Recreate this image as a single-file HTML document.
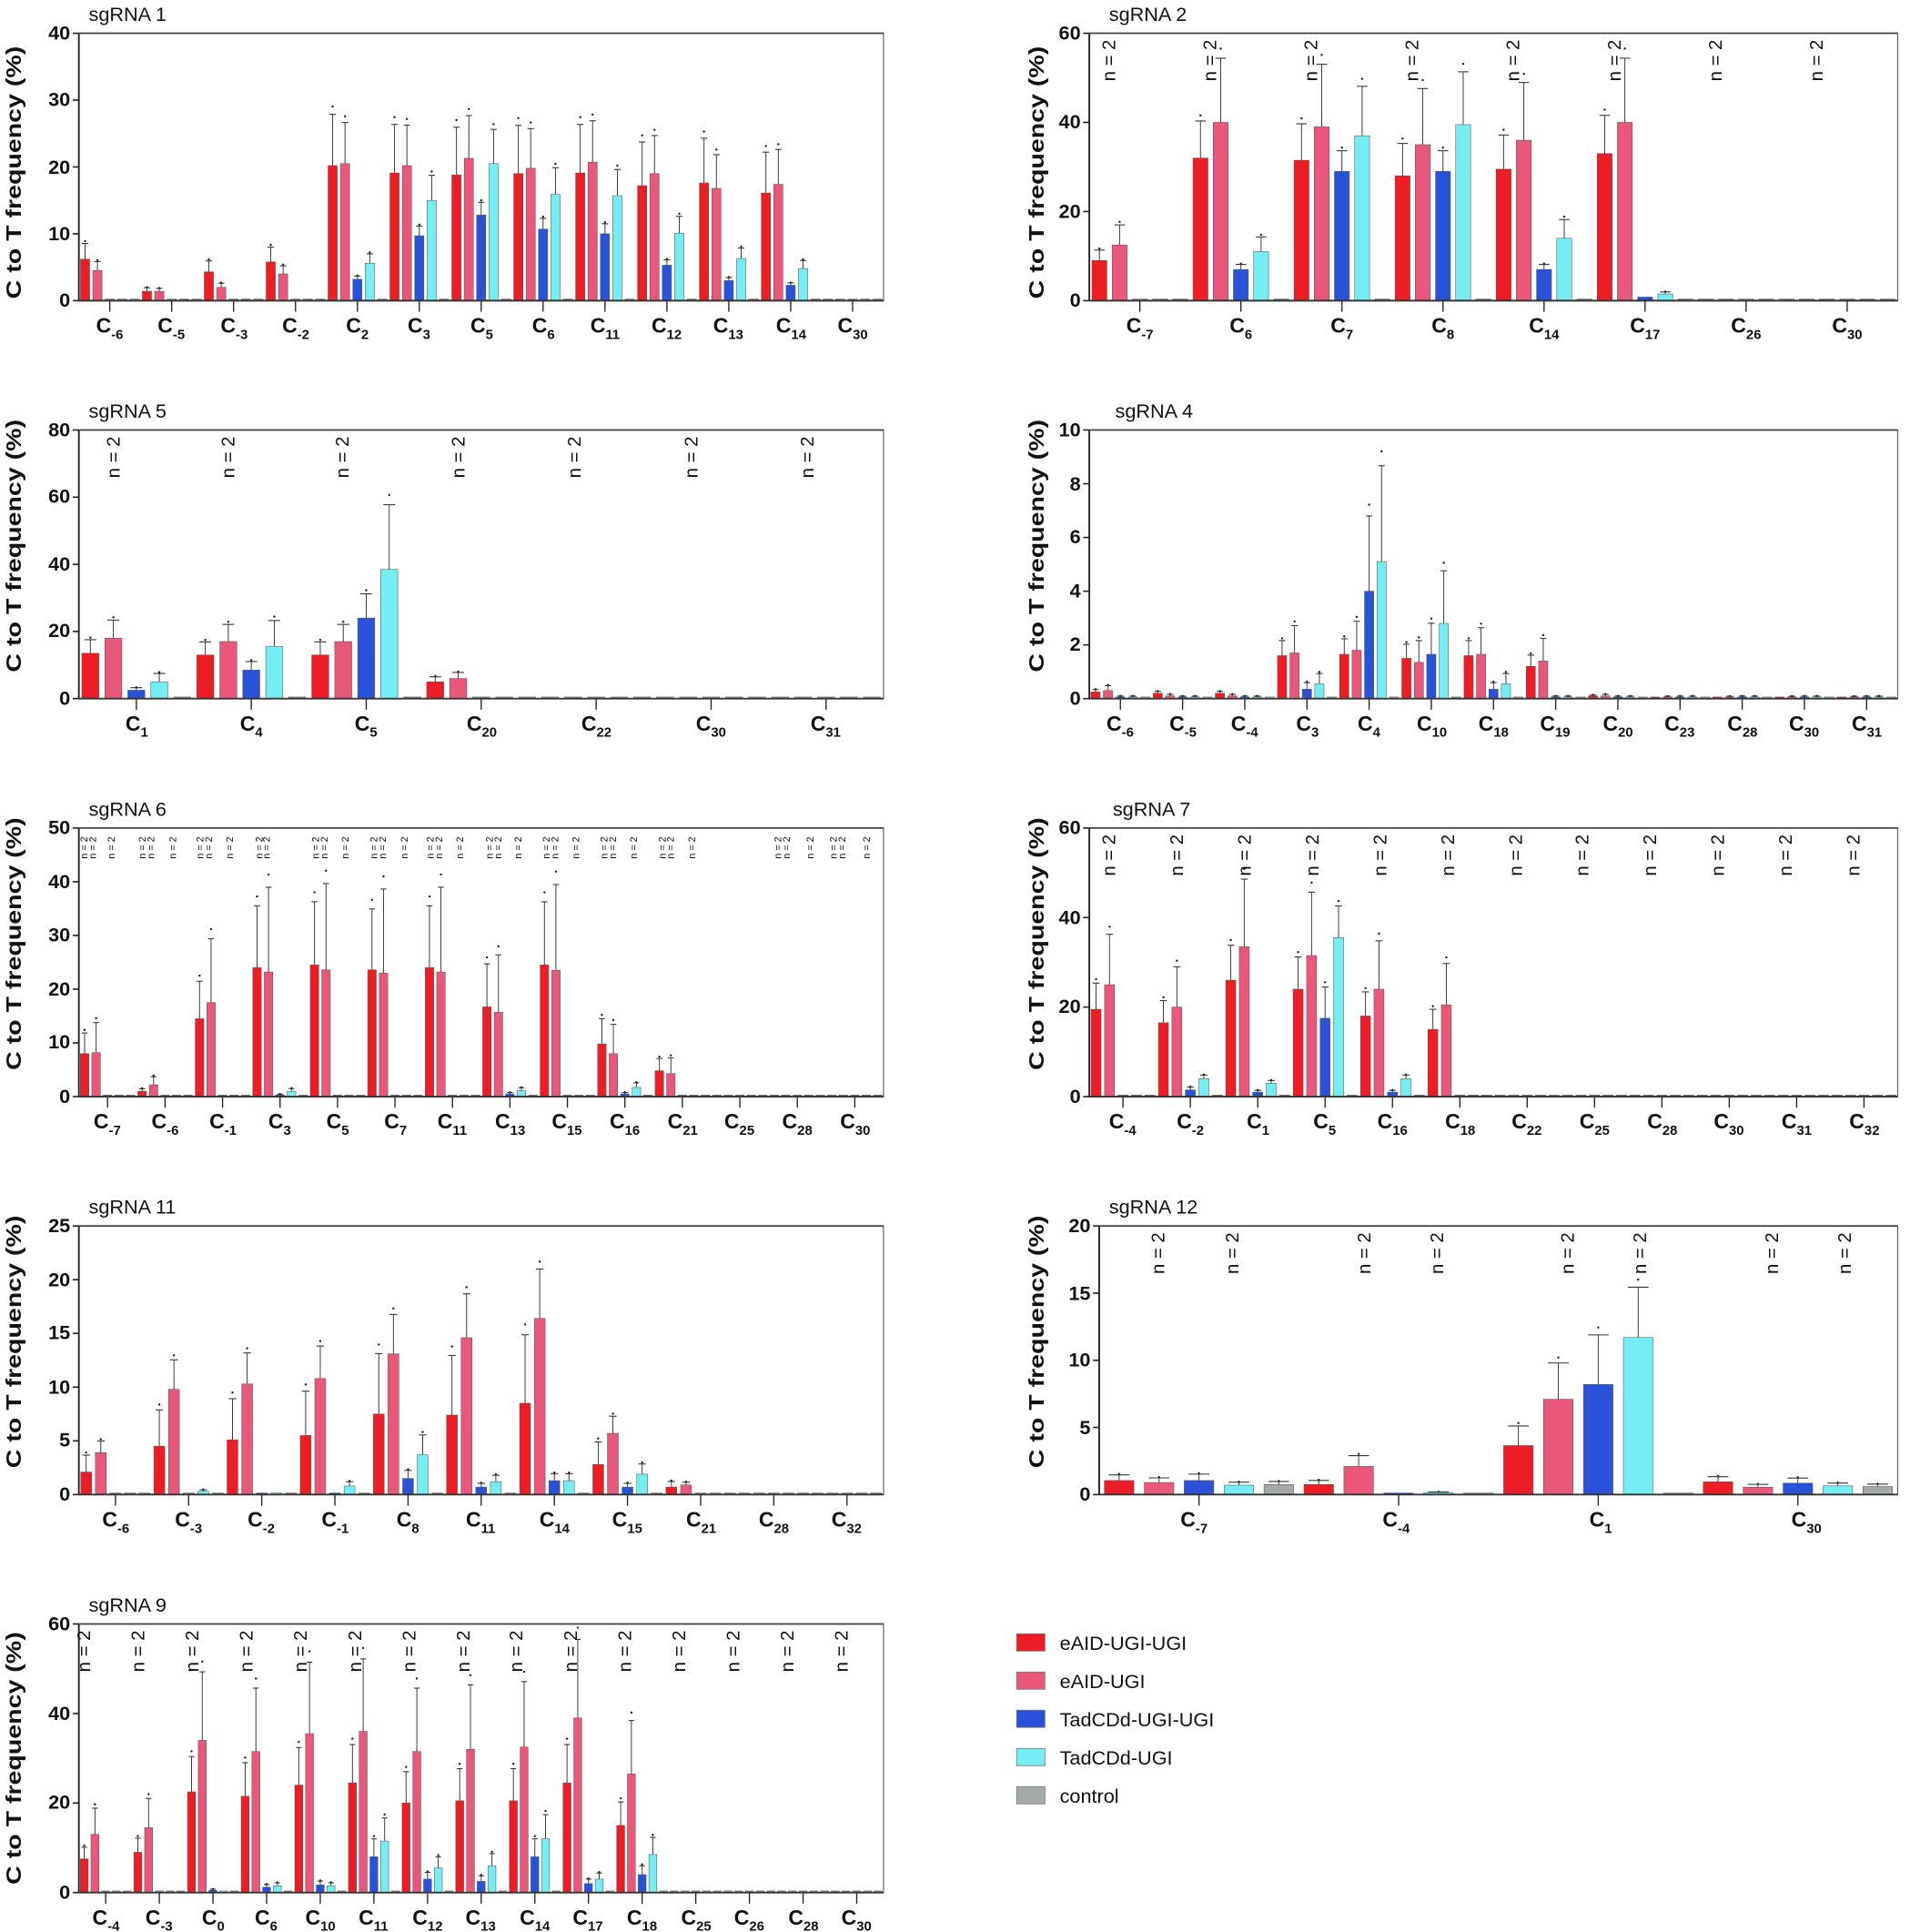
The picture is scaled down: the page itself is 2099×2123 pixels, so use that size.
<!DOCTYPE html>
<html><head><meta charset="utf-8">
<style>
html,body{margin:0;padding:0;background:#fff;}
svg{display:block;}
text{font-family:"Liberation Sans Narrow","Liberation Sans",sans-serif;fill:#111;}
.tk{font-weight:bold;font-size:16px;text-anchor:end;}
.xl{font-weight:bold;font-size:17px;text-anchor:middle;}
.sb{font-size:11px;}
.ti{font-size:16px;}
.yl{font-family:"Liberation Sans",sans-serif;font-weight:bold;font-size:17px;text-anchor:middle;}
.n{font-family:"Liberation Sans",sans-serif;font-size:15px;}
.ns{font-family:"Liberation Sans",sans-serif;font-size:8px;}
.lg{font-family:"Liberation Sans",sans-serif;font-size:16px;}
</style></head><body>
<svg id="s" width="2099" height="2123" viewBox="0 0 1550 1568" preserveAspectRatio="none" xmlns="http://www.w3.org/2000/svg">
<g id="bars"></g>
<!-- titles -->
<text class="ti" x="72" y="17">sgRNA 1</text>
<text class="ti" x="900" y="17">sgRNA 2</text>
<text class="ti" x="72" y="339">sgRNA 5</text>
<text class="ti" x="905" y="339">sgRNA 4</text>
<text class="ti" x="72" y="662">sgRNA 6</text>
<text class="ti" x="903" y="662">sgRNA 7</text>
<text class="ti" x="72" y="985">sgRNA 11</text>
<text class="ti" x="900" y="985">sgRNA 12</text>
<text class="ti" x="72" y="1308">sgRNA 9</text>
<!-- y labels -->
<text class="yl" textLength="205" lengthAdjust="spacingAndGlyphs" transform="translate(17,140) rotate(-90)">C to T frequency (%)</text>
<text class="yl" textLength="205" lengthAdjust="spacingAndGlyphs" transform="translate(847,140) rotate(-90)">C to T frequency (%)</text>
<text class="yl" textLength="205" lengthAdjust="spacingAndGlyphs" transform="translate(17,443) rotate(-90)">C to T frequency (%)</text>
<text class="yl" textLength="205" lengthAdjust="spacingAndGlyphs" transform="translate(847,443) rotate(-90)">C to T frequency (%)</text>
<text class="yl" textLength="205" lengthAdjust="spacingAndGlyphs" transform="translate(17,766) rotate(-90)">C to T frequency (%)</text>
<text class="yl" textLength="205" lengthAdjust="spacingAndGlyphs" transform="translate(847,766) rotate(-90)">C to T frequency (%)</text>
<text class="yl" textLength="205" lengthAdjust="spacingAndGlyphs" transform="translate(17,1089) rotate(-90)">C to T frequency (%)</text>
<text class="yl" textLength="205" lengthAdjust="spacingAndGlyphs" transform="translate(847,1089) rotate(-90)">C to T frequency (%)</text>
<text class="yl" textLength="205" lengthAdjust="spacingAndGlyphs" transform="translate(17,1427) rotate(-90)">C to T frequency (%)</text>
<!-- y ticks P1 -->
<text class="tk" x="57" y="249">0</text><text class="tk" x="57" y="195">10</text><text class="tk" x="57" y="141">20</text><text class="tk" x="57" y="86">30</text><text class="tk" x="57" y="32">40</text>
<!-- P2 -->
<text class="tk" x="877" y="249">0</text><text class="tk" x="877" y="177">20</text><text class="tk" x="877" y="104">40</text><text class="tk" x="877" y="32">60</text>
<!-- P5 -->
<text class="tk" x="57" y="572">0</text><text class="tk" x="57" y="517">20</text><text class="tk" x="57" y="463">40</text><text class="tk" x="57" y="408">60</text><text class="tk" x="57" y="354">80</text>
<!-- P4 -->
<text class="tk" x="877" y="572">0</text><text class="tk" x="877" y="528">2</text><text class="tk" x="877" y="485">4</text><text class="tk" x="877" y="441">6</text><text class="tk" x="877" y="398">8</text><text class="tk" x="877" y="354">10</text>
<!-- P6 -->
<text class="tk" x="57" y="895">0</text><text class="tk" x="57" y="851">10</text><text class="tk" x="57" y="808">20</text><text class="tk" x="57" y="764">30</text><text class="tk" x="57" y="721">40</text><text class="tk" x="57" y="677">50</text>
<!-- P7 -->
<text class="tk" x="877" y="895">0</text><text class="tk" x="877" y="822">20</text><text class="tk" x="877" y="750">40</text><text class="tk" x="877" y="677">60</text>
<!-- P11 -->
<text class="tk" x="57" y="1218">0</text><text class="tk" x="57" y="1174">5</text><text class="tk" x="57" y="1131">10</text><text class="tk" x="57" y="1087">15</text><text class="tk" x="57" y="1044">20</text><text class="tk" x="57" y="1000">25</text>
<!-- P12 -->
<text class="tk" x="885" y="1218">0</text><text class="tk" x="885" y="1164">5</text><text class="tk" x="885" y="1109">10</text><text class="tk" x="885" y="1055">15</text><text class="tk" x="885" y="1000">20</text>
<!-- P9 -->
<text class="tk" x="57" y="1541">0</text><text class="tk" x="57" y="1468">20</text><text class="tk" x="57" y="1396">40</text><text class="tk" x="57" y="1323">60</text>

<!-- x labels P1 -->
<text class="xl" x="89" y="270">C<tspan class="sb" dy="5">-6</tspan></text>
<text class="xl" x="139" y="270">C<tspan class="sb" dy="5">-5</tspan></text>
<text class="xl" x="190" y="270">C<tspan class="sb" dy="5">-3</tspan></text>
<text class="xl" x="240" y="270">C<tspan class="sb" dy="5">-2</tspan></text>
<text class="xl" x="290" y="270">C<tspan class="sb" dy="5">2</tspan></text>
<text class="xl" x="340" y="270">C<tspan class="sb" dy="5">3</tspan></text>
<text class="xl" x="391" y="270">C<tspan class="sb" dy="5">5</tspan></text>
<text class="xl" x="441" y="270">C<tspan class="sb" dy="5">6</tspan></text>
<text class="xl" x="491" y="270">C<tspan class="sb" dy="5">11</tspan></text>
<text class="xl" x="541" y="270">C<tspan class="sb" dy="5">12</tspan></text>
<text class="xl" x="591" y="270">C<tspan class="sb" dy="5">13</tspan></text>
<text class="xl" x="642" y="270">C<tspan class="sb" dy="5">14</tspan></text>
<text class="xl" x="692" y="270">C<tspan class="sb" dy="5">30</tspan></text>
<!-- P2 -->
<text class="xl" x="925" y="270">C<tspan class="sb" dy="5">-7</tspan></text>
<text class="xl" x="1007" y="270">C<tspan class="sb" dy="5">6</tspan></text>
<text class="xl" x="1089" y="270">C<tspan class="sb" dy="5">7</tspan></text>
<text class="xl" x="1171" y="270">C<tspan class="sb" dy="5">8</tspan></text>
<text class="xl" x="1253" y="270">C<tspan class="sb" dy="5">14</tspan></text>
<text class="xl" x="1335" y="270">C<tspan class="sb" dy="5">17</tspan></text>
<text class="xl" x="1417" y="270">C<tspan class="sb" dy="5">26</tspan></text>
<text class="xl" x="1499" y="270">C<tspan class="sb" dy="5">30</tspan></text>
<!-- P5 -->
<text class="xl" x="111" y="593">C<tspan class="sb" dy="5">1</tspan></text>
<text class="xl" x="204" y="593">C<tspan class="sb" dy="5">4</tspan></text>
<text class="xl" x="297" y="593">C<tspan class="sb" dy="5">5</tspan></text>
<text class="xl" x="391" y="593">C<tspan class="sb" dy="5">20</tspan></text>
<text class="xl" x="484" y="593">C<tspan class="sb" dy="5">22</tspan></text>
<text class="xl" x="577" y="593">C<tspan class="sb" dy="5">30</tspan></text>
<text class="xl" x="670" y="593">C<tspan class="sb" dy="5">31</tspan></text>
<!-- P4 -->
<text class="xl" x="909" y="593">C<tspan class="sb" dy="5">-6</tspan></text>
<text class="xl" x="960" y="593">C<tspan class="sb" dy="5">-5</tspan></text>
<text class="xl" x="1010" y="593">C<tspan class="sb" dy="5">-4</tspan></text>
<text class="xl" x="1061" y="593">C<tspan class="sb" dy="5">3</tspan></text>
<text class="xl" x="1111" y="593">C<tspan class="sb" dy="5">4</tspan></text>
<text class="xl" x="1162" y="593">C<tspan class="sb" dy="5">10</tspan></text>
<text class="xl" x="1212" y="593">C<tspan class="sb" dy="5">18</tspan></text>
<text class="xl" x="1262" y="593">C<tspan class="sb" dy="5">19</tspan></text>
<text class="xl" x="1313" y="593">C<tspan class="sb" dy="5">20</tspan></text>
<text class="xl" x="1363" y="593">C<tspan class="sb" dy="5">23</tspan></text>
<text class="xl" x="1414" y="593">C<tspan class="sb" dy="5">28</tspan></text>
<text class="xl" x="1464" y="593">C<tspan class="sb" dy="5">30</tspan></text>
<text class="xl" x="1515" y="593">C<tspan class="sb" dy="5">31</tspan></text>
<!-- P6 -->
<text class="xl" x="87" y="916">C<tspan class="sb" dy="5">-7</tspan></text>
<text class="xl" x="134" y="916">C<tspan class="sb" dy="5">-6</tspan></text>
<text class="xl" x="181" y="916">C<tspan class="sb" dy="5">-1</tspan></text>
<text class="xl" x="227" y="916">C<tspan class="sb" dy="5">3</tspan></text>
<text class="xl" x="274" y="916">C<tspan class="sb" dy="5">5</tspan></text>
<text class="xl" x="321" y="916">C<tspan class="sb" dy="5">7</tspan></text>
<text class="xl" x="367" y="916">C<tspan class="sb" dy="5">11</tspan></text>
<text class="xl" x="414" y="916">C<tspan class="sb" dy="5">13</tspan></text>
<text class="xl" x="460" y="916">C<tspan class="sb" dy="5">15</tspan></text>
<text class="xl" x="507" y="916">C<tspan class="sb" dy="5">16</tspan></text>
<text class="xl" x="554" y="916">C<tspan class="sb" dy="5">21</tspan></text>
<text class="xl" x="600" y="916">C<tspan class="sb" dy="5">25</tspan></text>
<text class="xl" x="647" y="916">C<tspan class="sb" dy="5">28</tspan></text>
<text class="xl" x="694" y="916">C<tspan class="sb" dy="5">30</tspan></text>
<!-- P7 -->
<text class="xl" x="911" y="916">C<tspan class="sb" dy="5">-4</tspan></text>
<text class="xl" x="966" y="916">C<tspan class="sb" dy="5">-2</tspan></text>
<text class="xl" x="1021" y="916">C<tspan class="sb" dy="5">1</tspan></text>
<text class="xl" x="1075" y="916">C<tspan class="sb" dy="5">5</tspan></text>
<text class="xl" x="1130" y="916">C<tspan class="sb" dy="5">16</tspan></text>
<text class="xl" x="1185" y="916">C<tspan class="sb" dy="5">18</tspan></text>
<text class="xl" x="1239" y="916">C<tspan class="sb" dy="5">22</tspan></text>
<text class="xl" x="1294" y="916">C<tspan class="sb" dy="5">25</tspan></text>
<text class="xl" x="1349" y="916">C<tspan class="sb" dy="5">28</tspan></text>
<text class="xl" x="1403" y="916">C<tspan class="sb" dy="5">30</tspan></text>
<text class="xl" x="1458" y="916">C<tspan class="sb" dy="5">31</tspan></text>
<text class="xl" x="1513" y="916">C<tspan class="sb" dy="5">32</tspan></text>
<!-- P11 -->
<text class="xl" x="94" y="1239">C<tspan class="sb" dy="5">-6</tspan></text>
<text class="xl" x="153" y="1239">C<tspan class="sb" dy="5">-3</tspan></text>
<text class="xl" x="212" y="1239">C<tspan class="sb" dy="5">-2</tspan></text>
<text class="xl" x="272" y="1239">C<tspan class="sb" dy="5">-1</tspan></text>
<text class="xl" x="331" y="1239">C<tspan class="sb" dy="5">8</tspan></text>
<text class="xl" x="390" y="1239">C<tspan class="sb" dy="5">11</tspan></text>
<text class="xl" x="450" y="1239">C<tspan class="sb" dy="5">14</tspan></text>
<text class="xl" x="509" y="1239">C<tspan class="sb" dy="5">15</tspan></text>
<text class="xl" x="569" y="1239">C<tspan class="sb" dy="5">21</tspan></text>
<text class="xl" x="628" y="1239">C<tspan class="sb" dy="5">28</tspan></text>
<text class="xl" x="687" y="1239">C<tspan class="sb" dy="5">32</tspan></text>
<!-- P12 -->
<text class="xl" x="969" y="1239">C<tspan class="sb" dy="5">-7</tspan></text>
<text class="xl" x="1133" y="1239">C<tspan class="sb" dy="5">-4</tspan></text>
<text class="xl" x="1299" y="1239">C<tspan class="sb" dy="5">1</tspan></text>
<text class="xl" x="1466" y="1239">C<tspan class="sb" dy="5">30</tspan></text>
<!-- P9 -->
<text class="xl" x="86" y="1562">C<tspan class="sb" dy="5">-4</tspan></text>
<text class="xl" x="129" y="1562">C<tspan class="sb" dy="5">-3</tspan></text>
<text class="xl" x="173" y="1562">C<tspan class="sb" dy="5">0</tspan></text>
<text class="xl" x="216" y="1562">C<tspan class="sb" dy="5">6</tspan></text>
<text class="xl" x="260" y="1562">C<tspan class="sb" dy="5">10</tspan></text>
<text class="xl" x="303" y="1562">C<tspan class="sb" dy="5">11</tspan></text>
<text class="xl" x="347" y="1562">C<tspan class="sb" dy="5">12</tspan></text>
<text class="xl" x="390" y="1562">C<tspan class="sb" dy="5">13</tspan></text>
<text class="xl" x="434" y="1562">C<tspan class="sb" dy="5">14</tspan></text>
<text class="xl" x="477" y="1562">C<tspan class="sb" dy="5">17</tspan></text>
<text class="xl" x="521" y="1562">C<tspan class="sb" dy="5">18</tspan></text>
<text class="xl" x="565" y="1562">C<tspan class="sb" dy="5">25</tspan></text>
<text class="xl" x="608" y="1562">C<tspan class="sb" dy="5">26</tspan></text>
<text class="xl" x="652" y="1562">C<tspan class="sb" dy="5">28</tspan></text>
<text class="xl" x="695" y="1562">C<tspan class="sb" dy="5">30</tspan></text>

<!-- n = 2 labels -->
<g class="n">
<text transform="translate(905,66) rotate(-90)">n = 2</text>
<text transform="translate(987,66) rotate(-90)">n = 2</text>
<text transform="translate(1069,66) rotate(-90)">n = 2</text>
<text transform="translate(1151,66) rotate(-90)">n = 2</text>
<text transform="translate(1233,66) rotate(-90)">n = 2</text>
<text transform="translate(1315,66) rotate(-90)">n = 2</text>
<text transform="translate(1397,66) rotate(-90)">n = 2</text>
<text transform="translate(1479,66) rotate(-90)">n = 2</text>

<text transform="translate(97,388) rotate(-90)">n = 2</text>
<text transform="translate(190,388) rotate(-90)">n = 2</text>
<text transform="translate(283,388) rotate(-90)">n = 2</text>
<text transform="translate(377,388) rotate(-90)">n = 2</text>
<text transform="translate(471,388) rotate(-90)">n = 2</text>
<text transform="translate(566,388) rotate(-90)">n = 2</text>
<text transform="translate(660,388) rotate(-90)">n = 2</text>

<text transform="translate(905,711) rotate(-90)">n = 2</text>
<text transform="translate(960,711) rotate(-90)">n = 2</text>
<text transform="translate(1015,711) rotate(-90)">n = 2</text>
<text transform="translate(1070,711) rotate(-90)">n = 2</text>
<text transform="translate(1125,711) rotate(-90)">n = 2</text>
<text transform="translate(1180,711) rotate(-90)">n = 2</text>
<text transform="translate(1235,711) rotate(-90)">n = 2</text>
<text transform="translate(1289,711) rotate(-90)">n = 2</text>
<text transform="translate(1344,711) rotate(-90)">n = 2</text>
<text transform="translate(1399,711) rotate(-90)">n = 2</text>
<text transform="translate(1454,711) rotate(-90)">n = 2</text>
<text transform="translate(1509,711) rotate(-90)">n = 2</text>

<text transform="translate(945,1034) rotate(-90)">n = 2</text>
<text transform="translate(1005,1034) rotate(-90)">n = 2</text>
<text transform="translate(1112,1034) rotate(-90)">n = 2</text>
<text transform="translate(1171,1034) rotate(-90)">n = 2</text>
<text transform="translate(1277,1034) rotate(-90)">n = 2</text>
<text transform="translate(1336,1034) rotate(-90)">n = 2</text>
<text transform="translate(1443,1034) rotate(-90)">n = 2</text>
<text transform="translate(1502,1034) rotate(-90)">n = 2</text>

<text transform="translate(73,1357) rotate(-90)">n = 2</text>
<text transform="translate(117,1357) rotate(-90)">n = 2</text>
<text transform="translate(161,1357) rotate(-90)">n = 2</text>
<text transform="translate(205,1357) rotate(-90)">n = 2</text>
<text transform="translate(249,1357) rotate(-90)">n = 2</text>
<text transform="translate(293,1357) rotate(-90)">n = 2</text>
<text transform="translate(337,1357) rotate(-90)">n = 2</text>
<text transform="translate(381,1357) rotate(-90)">n = 2</text>
<text transform="translate(424,1357) rotate(-90)">n = 2</text>
<text transform="translate(468,1357) rotate(-90)">n = 2</text>
<text transform="translate(512,1357) rotate(-90)">n = 2</text>
<text transform="translate(556,1357) rotate(-90)">n = 2</text>
<text transform="translate(600,1357) rotate(-90)">n = 2</text>
<text transform="translate(644,1357) rotate(-90)">n = 2</text>
<text transform="translate(688,1357) rotate(-90)">n = 2</text>
</g>
<g class="ns">
<text transform="translate(71,697) rotate(-90)">n = 2</text><text transform="translate(78,697) rotate(-90)">n = 2</text><text transform="translate(93,697) rotate(-90)">n = 2</text>
<text transform="translate(118,697) rotate(-90)">n = 2</text><text transform="translate(125,697) rotate(-90)">n = 2</text><text transform="translate(143,697) rotate(-90)">n = 2</text>
<text transform="translate(165,697) rotate(-90)">n = 2</text><text transform="translate(172,697) rotate(-90)">n = 2</text><text transform="translate(189,697) rotate(-90)">n = 2</text>
<text transform="translate(213,697) rotate(-90)">n = 2</text><text transform="translate(219,697) rotate(-90)">n = 2</text>
<text transform="translate(259,697) rotate(-90)">n = 2</text><text transform="translate(266,697) rotate(-90)">n = 2</text><text transform="translate(283,697) rotate(-90)">n = 2</text>
<text transform="translate(306,697) rotate(-90)">n = 2</text><text transform="translate(313,697) rotate(-90)">n = 2</text><text transform="translate(331,697) rotate(-90)">n = 2</text>
<text transform="translate(352,697) rotate(-90)">n = 2</text><text transform="translate(359,697) rotate(-90)">n = 2</text><text transform="translate(376,697) rotate(-90)">n = 2</text>
<text transform="translate(400,697) rotate(-90)">n = 2</text><text transform="translate(407,697) rotate(-90)">n = 2</text><text transform="translate(423,697) rotate(-90)">n = 2</text>
<text transform="translate(446,697) rotate(-90)">n = 2</text><text transform="translate(453,697) rotate(-90)">n = 2</text><text transform="translate(470,697) rotate(-90)">n = 2</text>
<text transform="translate(493,697) rotate(-90)">n = 2</text><text transform="translate(500,697) rotate(-90)">n = 2</text><text transform="translate(517,697) rotate(-90)">n = 2</text>
<text transform="translate(540,697) rotate(-90)">n = 2</text><text transform="translate(547,697) rotate(-90)">n = 2</text><text transform="translate(564,697) rotate(-90)">n = 2</text>
<text transform="translate(634,697) rotate(-90)">n = 2</text><text transform="translate(641,697) rotate(-90)">n = 2</text><text transform="translate(660,697) rotate(-90)">n = 2</text>
<text transform="translate(679,697) rotate(-90)">n = 2</text><text transform="translate(686,697) rotate(-90)">n = 2</text><text transform="translate(706,697) rotate(-90)">n = 2</text>
</g>

<!-- legend -->
<rect x="825" y="1326" width="23" height="14" fill="#ee1c25" stroke="#777" stroke-width="0.6"/>
<rect x="825" y="1357" width="23" height="14" fill="#e9587a" stroke="#777" stroke-width="0.6"/>
<rect x="825" y="1388" width="23" height="14" fill="#2a52d9" stroke="#777" stroke-width="0.6"/>
<rect x="825" y="1419" width="23" height="14" fill="#74edf3" stroke="#777" stroke-width="0.6"/>
<rect x="825" y="1450" width="23" height="14" fill="#a3aaa8" stroke="#777" stroke-width="0.6"/>
<text class="lg" x="860" y="1339">eAID-UGI-UGI</text>
<text class="lg" x="860" y="1370">eAID-UGI</text>
<text class="lg" x="860" y="1401">TadCDd-UGI-UGI</text>
<text class="lg" x="860" y="1432">TadCDd-UGI</text>
<text class="lg" x="860" y="1463">control</text>
</svg>
<script>
(function(){
var C=["#ee1c25","#e9587a","#2a52d9","#74edf3","#a3aaa8"];
var P=[
{L:64,R:717,T:27,Z:244,M:40,tk:10,e:[0.38,0.3,0.15,0.25,0],d:[[6.2,4.5,0,0,0],[1.4,1.4,0,0,0],[4.3,2,0,0,0],[5.8,4,0,0,0],[20.2,20.5,3.2,5.6,0],[19.1,20.2,9.7,15,0],[18.8,21.3,12.8,20.5,0],[19,19.8,10.7,15.9,0],[19.1,20.7,10,15.7,0],[17.2,19,5.3,10.1,0],[17.6,16.8,3,6.3,0],[16.1,17.4,2.3,4.8,0],[0,0,0,0,0]]},
{L:884,R:1540,T:27,Z:244,M:60,tk:20,e:[0.26,0.36,0.16,0.3,0],d:[[9,12.5,0,0,0],[32,40,7,11,0],[31.5,39,29,37,0],[28,35,29,39.5,0],[29.5,36,7,14,0],[33,40,0.8,1.5,0],[0,0,0,0,0],[0,0,0,0,0]]},
{L:64,R:717,T:349,Z:567,M:80,tk:20,e:[0.3,0.3,0.3,0.5,0],d:[[13.5,18,2.5,5,0],[13,17,8.5,15.5,0],[13,17,24,38.5,0],[5,6,0,0,0],[0,0,0,0,0],[0,0,0,0,0],[0,0,0,0,0]]},
{L:884,R:1540,T:349,Z:567,M:10,tk:2,e:[0.35,0.6,0.7,0.7,0],d:[[0.25,0.3,0.05,0.05,0.05],[0.2,0.1,0.05,0.05,0.02],[0.2,0.1,0.05,0.05,0.02],[1.6,1.7,0.35,0.55,0.05],[1.65,1.8,4,5.1,0.05],[1.5,1.35,1.65,2.8,0.05],[1.6,1.65,0.35,0.55,0.05],[1.2,1.4,0.05,0.05,0.05],[0.1,0.1,0.05,0.05,0.05],[0.05,0.05,0.05,0.05,0.05],[0.05,0.05,0.05,0.05,0.05],[0.05,0.05,0.05,0.05,0.05],[0.05,0.05,0.05,0.05,0.05]]},
{L:64,R:717,T:672,Z:890,M:50,tk:10,e:[0.48,0.68,0.5,0.5,0],d:[[8,8.2,0,0,0],[1,2.2,0,0,0],[14.5,17.5,0,0,0],[24,23.2,0.3,1,0],[24.5,23.6,0,0,0],[23.6,23,0,0,0],[24,23.2,0,0,0],[16.7,15.7,0.5,1.1,0],[24.5,23.5,0,0,0],[9.8,8,0.5,1.7,0],[4.8,4.3,0,0,0],[0,0,0,0,0],[0,0,0,0,0],[0,0,0,0,0]]},
{L:884,R:1540,T:672,Z:890,M:60,tk:20,e:[0.3,0.45,0.4,0.2,0],d:[[19.5,25,0,0,0],[16.5,20,1.5,4,0],[26,33.5,1,3,0],[24,31.5,17.5,35.5,0],[18,24,1,4,0],[15,20.5,0,0,0],[0,0,0,0,0],[0,0,0,0,0],[0,0,0,0,0],[0,0,0,0,0],[0,0,0,0,0],[0,0,0,0,0]]},
{L:64,R:717,T:995,Z:1213,M:25,tk:5,e:[0.75,0.28,0.5,0.5,0],d:[[2.1,3.9,0,0,0],[4.5,9.8,0,0.3,0],[5.1,10.3,0.1,0.1,0],[5.5,10.8,0.1,0.8,0],[7.5,13.1,1.5,3.7,0],[7.4,14.6,0.7,1.2,0],[8.5,16.4,1.3,1.3,0],[2.8,5.7,0.7,1.9,0],[0.7,0.9,0,0,0],[0,0,0,0,0],[0,0,0,0,0]]},
{L:892,R:1540,T:995,Z:1213,M:20,tk:5,e:[0.4,0.38,0.45,0.32,0.3],d:[[1.05,0.9,1.05,0.7,0.75],[0.75,2.1,0.1,0.15,0.05],[3.65,7.1,8.2,11.7,0.1],[0.95,0.55,0.85,0.65,0.6]]},
{L:64,R:717,T:1318,Z:1536,M:60,tk:20,e:[0.35,0.45,0.5,0.45,0],d:[[7.5,13,0,0,0],[9,14.5,0,0,0],[22.5,34,0.5,0.3,0],[21.5,31.5,1.2,1.5,0],[24,35.5,1.7,1.5,0],[24.5,36,8,11.5,0],[20,31.5,3,5.5,0],[20.5,32,2.5,6,0],[20.5,32.5,8,12,0],[24.5,39,2,3,0],[15,26.5,4,8.5,0],[0,0,0,0,0],[0,0,0,0,0],[0,0,0,0,0],[0,0,0,0,0]]}
];
var h='';
P.forEach(function(p){
 var H=p.Z-p.T, n=p.d.length, W=(p.R-p.L)/n, s=W/5, bw=s*0.74;
 h+='<rect x="'+p.L+'" y="'+p.T+'" width="'+(p.R-p.L)+'" height="'+H+'" fill="none" stroke="#666" stroke-width="0.9"/>';
 for(var v=0;v<=p.M+1e-9;v+=p.tk){var y=p.Z-v/p.M*H;h+='<line x1="'+(p.L-5)+'" x2="'+p.L+'" y1="'+y+'" y2="'+y+'" stroke="#222" stroke-width="1.2"/>';}
 p.d.forEach(function(g,i){
  var cx=p.L+(i+0.5)*W;
  h+='<line x1="'+cx+'" x2="'+cx+'" y1="'+p.Z+'" y2="'+(p.Z+9)+'" stroke="#222" stroke-width="1"/>';
  g.forEach(function(val,k){
   var x=p.L+i*W+(k+0.5)*s-bw/2, bh=Math.max(val/p.M*H,1.3), y=p.Z-bh;
   var cxx=x+bw/2;
   if(val>0.0001){var eh=val*p.e[k]/p.M*H; if(eh>0.5){h+='<line x1="'+cxx+'" x2="'+cxx+'" y1="'+y+'" y2="'+(y-eh)+'" stroke="#333" stroke-width="0.7"/><line x1="'+(cxx-bw*0.35)+'" x2="'+(cxx+bw*0.35)+'" y1="'+(y-eh)+'" y2="'+(y-eh)+'" stroke="#333" stroke-width="0.8"/>';
     h+='<circle cx="'+cxx+'" cy="'+(y-eh*1.15)+'" r="0.9" fill="#222"/><circle cx="'+cxx+'" cy="'+(y+bh*0.35)+'" r="0.9" fill="#222"/>';}}
   h+='<rect x="'+x+'" y="'+y+'" width="'+bw+'" height="'+bh+'" fill="'+(val>0.0001?C[k]:'#8a9090')+'" stroke="#555" stroke-width="0.4"/>';
  });
 });
 h+='<line x1="'+p.L+'" x2="'+p.L+'" y1="'+p.T+'" y2="'+p.Z+'" stroke="#222" stroke-width="1.4"/>';
 h+='<line x1="'+p.L+'" x2="'+p.R+'" y1="'+p.Z+'" y2="'+p.Z+'" stroke="#333" stroke-width="1.4"/>';
 h+='<line x1="'+p.L+'" x2="'+p.R+'" y1="'+p.T+'" y2="'+p.T+'" stroke="#444" stroke-width="1.3"/>';
});
document.getElementById('bars').innerHTML=h;
})();
</script>
</body></html>
